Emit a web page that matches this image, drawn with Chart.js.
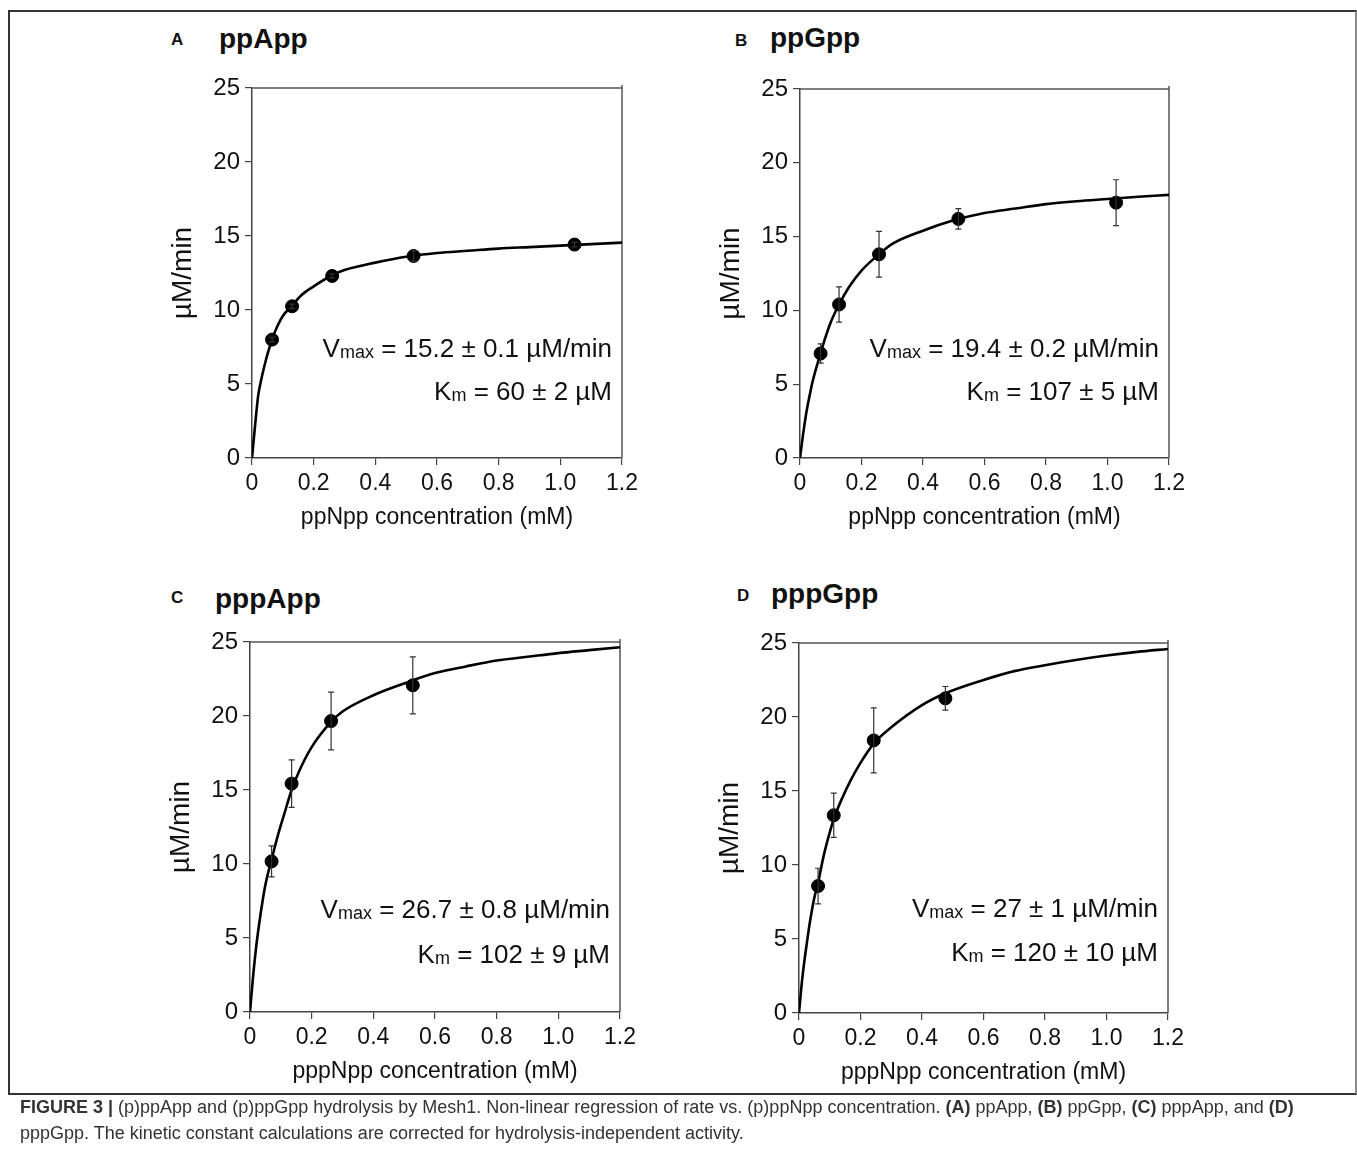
<!DOCTYPE html>
<html>
<head>
<meta charset="utf-8">
<script src="https://cdn.jsdelivr.net/npm/chart.js@4.4.0/dist/chart.umd.min.js"></script>
<style>
    body { margin: 0; background: #fff; font-family: "Liberation Sans", Arial, sans-serif; }
    #frame { position: absolute; left: 8px; top: 10px; width: 1345px; height: 1081px; border: 2px solid #333; border-right-color: #888; }
    .letter { position: absolute; font-weight: bold; font-size: 17px; color: #111; }
    .ttl { position: absolute; font-weight: bold; font-size: 28px; color: #111; }
    canvas { position: absolute; }
    #caption { position: absolute; left: 20px; top: 1094px; width: 1325px; font-size: 18px; line-height: 26px; color: #333; }
</style>
</head>
<body>
<div id="frame"></div>

<div class="letter" style="left:171px; top:30px;">A</div>
<div class="ttl" style="left:219px; top:23px;">ppApp</div>
<div class="letter" style="left:735px; top:31px;">B</div>
<div class="ttl" style="left:770px; top:22px;">ppGpp</div>
<div class="letter" style="left:171px; top:588px;">C</div>
<div class="ttl" style="left:215px; top:583px;">pppApp</div>
<div class="letter" style="left:737px; top:586px;">D</div>
<div class="ttl" style="left:771px; top:578px;">pppGpp</div>

<canvas id="cA"></canvas>
<canvas id="cB"></canvas>
<canvas id="cC"></canvas>
<canvas id="cD"></canvas>

<div id="caption"><b>FIGURE 3 |</b> (p)ppApp and (p)ppGpp hydrolysis by Mesh1. Non-linear regression of rate vs. (p)ppNpp concentration. <b>(A)</b> ppApp, <b>(B)</b> ppGpp, <b>(C)</b> pppApp, and <b>(D)</b> pppGpp. The kinetic constant calculations are corrected for hydrolysis-independent activity.</div>

<script>
// eixos
const xTicks = [0, 0.2, 0.4, 0.6, 0.8, 1.0, 1.2];
const yTicks = [0, 5, 10, 15, 20, 25];

// A - ppApp
const concA = [0.065, 0.13, 0.26, 0.524, 1.046];
const rateA = [8.0, 10.25, 12.3, 13.65, 14.42];
const errA  = [0.15, 0.15, 0.15, 0.35, 0.15];
const fitXA = [0, 0.01, 0.02, 0.03, 0.04, 0.05, 0.065, 0.08, 0.1, 0.13, 0.16, 0.2, 0.26, 0.3, 0.4, 0.5, 0.6, 0.7, 0.8, 0.9, 1.0, 1.1, 1.2];
const fitYA = [0, 2.2, 4.2, 5.3, 6.2, 7.0, 8.0, 8.8, 9.6, 10.3, 11.0, 11.6, 12.35, 12.7, 13.2, 13.6, 13.85, 14.0, 14.15, 14.25, 14.35, 14.45, 14.55];

// B - ppGpp
const concB = [0.067, 0.127, 0.257, 0.515, 1.028];
const rateB = [7.08, 10.4, 13.8, 16.2, 17.3];
const errB  = [0.65, 1.2, 1.55, 0.7, 1.55];
const fitXB = [0, 0.01, 0.02, 0.03, 0.04, 0.05, 0.067, 0.08, 0.1, 0.127, 0.16, 0.2, 0.257, 0.3, 0.4, 0.5, 0.6, 0.7, 0.8, 0.9, 1.0, 1.1, 1.2];
const fitYB = [0, 1.6, 3.0, 4.1, 5.1, 5.9, 7.1, 8.0, 9.2, 10.4, 11.6, 12.7, 13.8, 14.5, 15.4, 16.1, 16.6, 16.9, 17.2, 17.4, 17.55, 17.7, 17.83];

// C - pppApp
const concC = [0.070, 0.135, 0.263, 0.528];
const rateC = [10.18, 15.43, 19.66, 22.07];
const errC  = [1.05, 1.6, 1.95, 1.93];
const fitXC = [0, 0.01, 0.02, 0.03, 0.04, 0.05, 0.07, 0.09, 0.11, 0.135, 0.16, 0.2, 0.263, 0.3, 0.4, 0.5, 0.6, 0.7, 0.8, 0.9, 1.0, 1.1, 1.2];
const fitYC = [0, 2.4, 4.4, 6.0, 7.4, 8.6, 10.3, 11.9, 13.3, 15.0, 16.3, 17.9, 19.6, 20.3, 21.4, 22.2, 22.9, 23.35, 23.75, 24.0, 24.25, 24.45, 24.65];

// D - pppGpp
const concD = [0.062, 0.113, 0.243, 0.476];
const rateD = [8.58, 13.36, 18.42, 21.26];
const errD  = [1.2, 1.5, 2.2, 0.8];
const fitXD = [0, 0.01, 0.02, 0.03, 0.04, 0.05, 0.062, 0.08, 0.1, 0.113, 0.14, 0.17, 0.2, 0.243, 0.3, 0.4, 0.476, 0.6, 0.7, 0.8, 0.9, 1.0, 1.1, 1.2];
const fitYD = [0, 2.2, 3.9, 5.4, 6.7, 7.8, 8.8, 10.6, 12.2, 13.1, 14.5, 15.8, 16.9, 18.2, 19.3, 20.8, 21.6, 22.5, 23.1, 23.5, 23.85, 24.15, 24.4, 24.6];

const vmaxText = ['15.2 ± 0.1 µM/min', '19.4 ± 0.2 µM/min', '26.7 ± 0.8 µM/min', '27 ± 1 µM/min'];
const kmText   = ['60 ± 2 µM', '107 ± 5 µM', '102 ± 9 µM', '120 ± 10 µM'];
const xTitles  = ['ppNpp concentration (mM)', 'ppNpp concentration (mM)', 'pppNpp concentration (mM)', 'pppNpp concentration (mM)'];

const FONT = '"Liberation Sans", Arial, sans-serif';
const Y_W = 110, X_H = 90, PAD_T = 20, PAD_R = 40;

function toPts(xs, ys) {
    return xs.map(function(x, i) { return { x: x, y: ys[i] }; });
}

// barras de erro
const errorBars = {
    id: 'errorBars',
    afterDatasetsDraw: function(chart) {
        const err = chart.options.plugins.errorBars.err;
        const meta = chart.getDatasetMeta(1);
        const ys = chart.scales.y;
        const ctx = chart.ctx;
        ctx.save();
        ctx.strokeStyle = '#333';
        ctx.lineWidth = 1.2;
        meta.data.forEach(function(pt, i) {
            const v = chart.data.datasets[1].data[i].y;
            const top = ys.getPixelForValue(v + err[i]);
            const bot = ys.getPixelForValue(v - err[i]);
            ctx.beginPath();
            ctx.moveTo(pt.x, top); ctx.lineTo(pt.x, bot);
            ctx.moveTo(pt.x - 3, top); ctx.lineTo(pt.x + 3, top);
            ctx.moveTo(pt.x - 3, bot); ctx.lineTo(pt.x + 3, bot);
            ctx.stroke();
        });
        ctx.restore();
    }
};

// moldura de cima/direita e textos Vmax/Km
const extras = {
    id: 'extras',
    beforeDatasetsDraw: function(chart) {
        const a = chart.chartArea, ctx = chart.ctx;
        ctx.save();
        ctx.strokeStyle = '#555';
        ctx.lineWidth = 1.5;
        ctx.beginPath();
        ctx.moveTo(a.left, a.top); ctx.lineTo(a.right, a.top);
        ctx.moveTo(a.right, a.top - 3); ctx.lineTo(a.right, a.bottom);
        ctx.stroke();
        ctx.restore();
    },
    afterDraw: function(chart) {
        const o = chart.options.plugins.extras;
        const a = chart.chartArea, ctx = chart.ctx;
        ctx.save();
        ctx.fillStyle = '#111';
        ctx.textBaseline = 'alphabetic';
        function line(main, sub, rest, dx, dy) {
            ctx.font = '26px ' + FONT;
            const w1 = ctx.measureText(main).width, w3 = ctx.measureText(rest).width;
            ctx.font = '18px ' + FONT;
            const w2 = ctx.measureText(sub).width;
            let x = a.right - dx - (w1 + w2 + w3);
            const y = a.bottom - dy;
            ctx.font = '26px ' + FONT;
            ctx.fillText(main, x, y);
            ctx.font = '18px ' + FONT;
            ctx.fillText(sub, x + w1, y + 1);
            ctx.font = '26px ' + FONT;
            ctx.fillText(rest, x + w1 + w2, y);
        }
        line('V', 'max', ' = ' + o.vmax, o.dx, o.dyV);
        line('K', 'm', ' = ' + o.km, o.dx, o.dyK);
        ctx.restore();
    }
};

function drawPanel(id, area, fx, fy, cx, cy, err, idx, dyV, dyK) {
    const cv = document.getElementById(id);
    const w = (area.r - area.l) + Y_W + PAD_R;
    const h = (area.b - area.t) + PAD_T + X_H;
    cv.width = w; cv.height = h;
    cv.style.left = (area.l - Y_W) + 'px';
    cv.style.top = (area.t - PAD_T) + 'px';
    cv.style.width = w + 'px';
    cv.style.height = h + 'px';

    new Chart(cv.getContext('2d'), {
        type: 'scatter',
        data: {
            datasets: [
                {
                    type: 'line',
                    data: toPts(fx, fy),
                    borderColor: '#000',
                    borderWidth: 2.6,
                    pointRadius: 0,
                    fill: false,
                    cubicInterpolationMode: 'monotone'
                },
                {
                    data: toPts(cx, cy),
                    backgroundColor: '#000',
                    borderColor: '#000',
                    pointRadius: 6.5,
                    pointHoverRadius: 6.5
                }
            ]
        },
        plugins: [extras, errorBars],
        options: {
            responsive: false,
            animation: false,
            events: [],
            layout: { padding: { top: PAD_T, right: PAD_R, left: 0, bottom: 0 } },
            plugins: {
                legend: { display: false },
                tooltip: { enabled: false },
                errorBars: { err: err },
                extras: { vmax: vmaxText[idx], km: kmText[idx], dx: 10, dyV: dyV, dyK: dyK }
            },
            scales: {
                x: {
                    type: 'linear',
                    min: 0, max: 1.2,
                    afterBuildTicks: function(s) { s.ticks = xTicks.map(function(v) { return { value: v }; }); },
                    afterFit: function(s) { s.height = X_H; },
                    border: { display: true, color: '#444', width: 1.5 },
                    grid: { drawOnChartArea: false, drawTicks: true, tickLength: 7, color: '#444', lineWidth: 1.2 },
                    ticks: {
                        padding: 5,
                        color: '#111',
                        font: { family: FONT, size: 23 },
                        maxRotation: 0,
                        callback: function(v) { return v === 0 ? '0' : v.toFixed(1); }
                    },
                    title: {
                        display: true,
                        text: xTitles[idx],
                        color: '#111',
                        font: { family: FONT, size: 23, lineHeight: 1 },
                        padding: { top: 0, bottom: 19 }
                    }
                },
                y: {
                    type: 'linear',
                    min: 0, max: 25,
                    afterBuildTicks: function(s) { s.ticks = yTicks.map(function(v) { return { value: v }; }); },
                    afterFit: function(s) { s.width = Y_W; },
                    border: { display: true, color: '#444', width: 1.5 },
                    grid: { drawOnChartArea: false, drawTicks: true, tickLength: 7, color: '#444', lineWidth: 1.2 },
                    ticks: {
                        padding: 5,
                        color: '#111',
                        font: { family: FONT, size: 24 }
                    },
                    title: {
                        display: true,
                        text: 'µM/min',
                        color: '#111',
                        font: { family: FONT, size: 28, lineHeight: 1 },
                        padding: { top: 27, bottom: 0 }
                    }
                }
            }
        }
    });
}

drawPanel('cA', { l: 252, t: 88, r: 622, b: 458 }, fitXA, fitYA, concA, rateA, errA, 0, 101, 58);
drawPanel('cB', { l: 800, t: 89, r: 1169, b: 458 }, fitXB, fitYB, concB, rateB, errB, 1, 101, 58);
drawPanel('cC', { l: 250, t: 642, r: 620, b: 1012 }, fitXC, fitYC, concC, rateC, errC, 2, 94, 49);
drawPanel('cD', { l: 799, t: 643, r: 1168, b: 1013 }, fitXD, fitYD, concD, rateD, errD, 3, 96, 52);
</script>
</body>
</html>
